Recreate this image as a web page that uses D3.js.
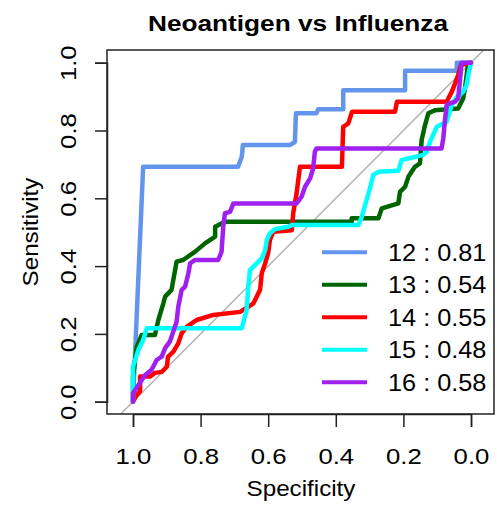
<!DOCTYPE html>
<html>
<head>
<meta charset="utf-8">
<script src="https://cdn.jsdelivr.net/npm/d3@7"></script>
<style>
  html, body { margin: 0; padding: 0; background: #fff; }
  svg text { font-family: "Liberation Sans", Arial, Helvetica, sans-serif; fill: #000; }
</style>
</head>
<body>
<svg id="chart" width="497" height="505"></svg>
<script>
// ---- data: [specificity, sensitivity] points ----
const roc12 = [[1,0],[0.970,0.693],[0.689,0.693],[0.678,0.723],[0.675,0.757],[0.536,0.757],[0.521,0.766],[0.518,0.851],[0.457,0.851],[0.452,0.863],[0.378,0.863],[0.378,0.919],[0.195,0.919],[0.195,0.976],[0.042,0.976],[0.042,1.0],[0,1]];
const roc13 = [[1,0],[1.0,0.074],[0.989,0.162],[0.974,0.197],[0.935,0.197],[0.925,0.241],[0.910,0.291],[0.905,0.310],[0.886,0.330],[0.871,0.413],[0.852,0.418],[0.817,0.442],[0.787,0.467],[0.757,0.487],[0.757,0.516],[0.728,0.531],[0.353,0.531],[0.353,0.541],[0.274,0.541],[0.264,0.570],[0.215,0.585],[0.210,0.619],[0.195,0.634],[0.185,0.664],[0.166,0.693],[0.151,0.703],[0.146,0.772],[0.136,0.816],[0.126,0.851],[0.107,0.860],[0.038,0.865],[0.023,0.895],[0.018,0.924],[0.009,0.993],[0,1]];
const roc14 = [[1,0],[0.989,0.020],[0.979,0.030],[0.979,0.074],[0.950,0.074],[0.935,0.085],[0.915,0.088],[0.900,0.103],[0.896,0.133],[0.881,0.147],[0.866,0.172],[0.856,0.202],[0.841,0.221],[0.812,0.241],[0.762,0.256],[0.683,0.265],[0.659,0.280],[0.644,0.290],[0.624,0.330],[0.619,0.379],[0.609,0.408],[0.600,0.438],[0.595,0.477],[0.585,0.501],[0.530,0.506],[0.526,0.556],[0.516,0.615],[0.506,0.693],[0.382,0.693],[0.378,0.811],[0.363,0.821],[0.352,0.855],[0.225,0.855],[0.219,0.885],[0.072,0.885],[0.057,0.914],[0.047,0.939],[0.038,0.964],[0.030,0.993],[0,1]];
const roc15 = [[1,0],[1.0,0.103],[0.984,0.153],[0.970,0.182],[0.959,0.217],[0.678,0.217],[0.664,0.270],[0.659,0.339],[0.654,0.388],[0.634,0.408],[0.619,0.423],[0.609,0.447],[0.604,0.477],[0.595,0.497],[0.580,0.509],[0.541,0.516],[0.530,0.521],[0.333,0.521],[0.323,0.546],[0.309,0.595],[0.299,0.629],[0.289,0.669],[0.274,0.678],[0.215,0.681],[0.205,0.713],[0.141,0.728],[0.131,0.737],[0.121,0.767],[0.112,0.787],[0.101,0.811],[0.072,0.826],[0.057,0.875],[0.042,0.899],[0.023,0.914],[0.013,0.934],[0.008,0.964],[0.003,0.987],[0,1]];
const roc16 = [[1,0],[1.0,0.025],[0.964,0.079],[0.945,0.094],[0.930,0.123],[0.915,0.133],[0.905,0.158],[0.891,0.177],[0.881,0.206],[0.871,0.236],[0.866,0.280],[0.856,0.330],[0.846,0.339],[0.836,0.379],[0.831,0.408],[0.817,0.418],[0.748,0.418],[0.738,0.442],[0.733,0.516],[0.728,0.556],[0.713,0.560],[0.703,0.585],[0.516,0.585],[0.501,0.605],[0.491,0.634],[0.476,0.659],[0.467,0.688],[0.462,0.737],[0.457,0.747],[0.087,0.747],[0.082,0.777],[0.077,0.831],[0.072,0.875],[0.062,0.880],[0.047,0.885],[0.038,0.895],[0.033,0.944],[0.028,1.0],[0,1]];

const seriesNames = ["12", "13", "14", "15", "16"];
const aucValues = ["0.81", "0.54", "0.55", "0.48", "0.58"];
const seriesColors = ["#6495ED", "#006400", "#FF0000", "#00FFFF", "#A020F0"];
const seriesData = [roc12, roc13, roc14, roc15, roc16];
const tickValues = [1.0, 0.8, 0.6, 0.4, 0.2, 0.0];

// ---- layout ----
const svg = d3.select("#chart");
const box = { left: 107, right: 494, top: 50, bottom: 414 };
const x = d3.scaleLinear().domain([1, 0]).range([133, 471]);
const y = d3.scaleLinear().domain([0, 1]).range([401.7, 62.7]);

svg.append("clipPath").attr("id", "plotclip")
  .append("rect").attr("x", box.left).attr("y", box.top)
  .attr("width", box.right - box.left).attr("height", box.bottom - box.top);

// diagonal reference line (sens = 1 - spec)
const specLo = x.invert(box.right), specHi = x.invert(box.left);
svg.append("line")
  .attr("clip-path", "url(#plotclip)")
  .attr("x1", x(specHi)).attr("y1", y(1 - specHi))
  .attr("x2", x(specLo)).attr("y2", y(1 - specLo))
  .attr("stroke", "#b3b3b3").attr("stroke-width", 1.5);

// curves
const line = d3.line().x(d => x(d[0])).y(d => y(d[1]));
const curves = svg.append("g").attr("clip-path", "url(#plotclip)");
seriesData.forEach((data, i) => {
  curves.append("path").datum(data)
    .attr("d", line)
    .attr("fill", "none")
    .attr("stroke", seriesColors[i])
    .attr("stroke-width", 4.5)
    .attr("stroke-linejoin", "round")
    .attr("stroke-linecap", "round");
});

// box
svg.append("rect")
  .attr("x", box.left).attr("y", box.top)
  .attr("width", box.right - box.left).attr("height", box.bottom - box.top)
  .attr("fill", "none").attr("stroke", "#222").attr("stroke-width", 1.5);

const fmt = d3.format(".1f");

// x axis
const xAxis = svg.append("g").attr("transform", `translate(0,${box.bottom})`)
  .call(d3.axisBottom(x).tickValues(tickValues).tickFormat(fmt).tickSize(13));
xAxis.select(".domain").attr("stroke", "#222").attr("stroke-width", 1.5);
xAxis.selectAll(".tick line").attr("stroke", "#222").attr("stroke-width", 1.5);
xAxis.selectAll(".tick text").remove();
xAxis.selectAll(".tick").append("text")
  .attr("transform", "translate(0,50) scale(1.12,1)")
  .attr("text-anchor", "middle")
  .attr("font-size", 23).attr("fill", "#111")
  .text(d => fmt(d));

// y axis
const yAxis = svg.append("g").attr("transform", `translate(${box.left},0)`)
  .call(d3.axisLeft(y).tickValues(tickValues).tickFormat(fmt).tickSize(12));
yAxis.select(".domain").attr("stroke", "#222").attr("stroke-width", 1.5);
yAxis.selectAll(".tick line").attr("stroke", "#222").attr("stroke-width", 1.5);
yAxis.selectAll(".tick text").remove();
yAxis.selectAll(".tick").append("text")
  .attr("transform", "translate(-31,0) rotate(-90) scale(1.12,1)")
  .attr("text-anchor", "middle")
  .attr("font-size", 23).attr("fill", "#111")
  .text(d => fmt(d));

// titles
svg.append("text")
  .attr("transform", "translate(298,31) scale(1.22,1)")
  .attr("text-anchor", "middle")
  .attr("font-size", 21.5).attr("font-weight", "bold")
  .text("Neoantigen vs Influenza");
svg.append("text")
  .attr("transform", "translate(301,496) scale(1.1,1)")
  .attr("text-anchor", "middle")
  .attr("font-size", 22).attr("fill", "#111")
  .text("Specificity");
svg.append("text")
  .attr("transform", "translate(38,232) rotate(-90) scale(1.1,1)")
  .attr("text-anchor", "middle").attr("font-size", 22).attr("fill", "#111")
  .text("Sensitivity");

// legend
const legend = svg.append("g");
const legendY = d3.scaleLinear().domain([0, 4]).range([252.3, 382.3]);
seriesNames.forEach((name, i) => {
  const ly = legendY(i);
  legend.append("line").attr("x1", 322).attr("x2", 367).attr("y1", ly).attr("y2", ly)
    .attr("stroke", seriesColors[i]).attr("stroke-width", 4);
  legend.append("text")
    .attr("transform", `translate(388,${ly + 8.5}) scale(1.1,1)`)
    .attr("font-size", 23).attr("fill", "#111")
    .text(`${name} : ${aucValues[i]}`);
});
</script>
</body>
</html>
